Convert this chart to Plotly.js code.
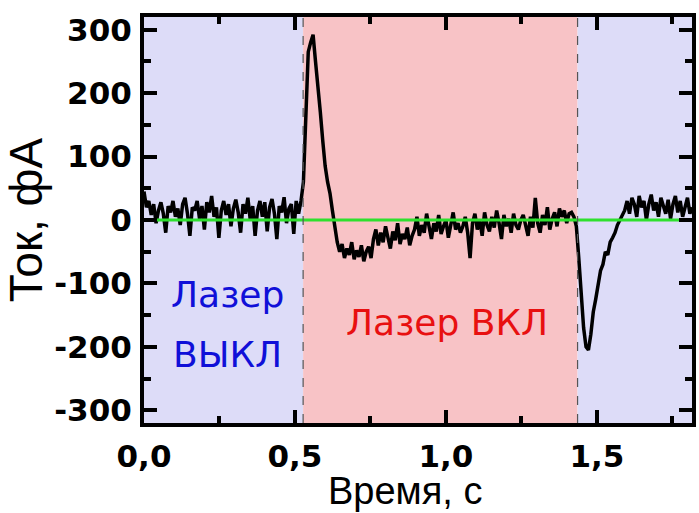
<!DOCTYPE html>
<html><head><meta charset="utf-8">
<script src="https://cdn.plot.ly/plotly-3.0.1.min.js"></script>
<style>html,body{margin:0;padding:0;background:#fff}#chart{width:699px;height:513px}</style>
</head><body><div id="chart"></div>
<script>
// sampling
const t0 = 0.0;
const dt = 0.008;
// current values, fA (one sample every dt seconds)
const offSegment1 = [45, 20, 30, 8, 25, -5, 15, 28, 10, -20,
  22, 12, 30, 5, 18, -8, 25, 35, 10, -25,
  20, 15, 30, 2, 22, -15, 28, 12, 38, 5,
  20, -28, 15, 30, 8, 25, -10, 18, 32, 12,
  -20, 25, 10, 35, 0, 22, -25, 15, 30, 5,
  28, -18, 20, 33, 10, -30, 22, 12, 36, -5,
  18, 25, -22, 30, 10, 30];
const onPeak = [60, 180, 265, 280, 292, 250, 215, 170, 125, 85, 60, 42, 15, -15, -35];
const onUndershoot = [-50, -38, -60, -45, -55, -35, -62, -48, -58, -40, -65, -50, -42, -60,
  -30, -15, -40, -20, -35, -10, -28, -45, -18, -32, -5, -38, -22, -30, -12, -40, -25,
  -15, 5, -25, -8, -20, 10, -12, -30, -5, -18, 8, -22, -10, 0, -28, -8, 12, -15, -5, -20];
const onPlateau = [-10, 5, -20, -60, -5, 10, -15, 0, -25, 12,
  -8, -18, 5, -12, 15, -5, -30, 8, -10, 2,
  -20, 10, -8, -15, 0, 8, -10, -25, 5, -12,
  35, -5, -20, 8, -8, 20, -15, 2, 12, -10,
  18, 5, 15, -5, 10, 12, 5];
const offDip = [-10, -60, -120, -170, -200, -205, -180, -145, -125, -100, -80, -70, -50, -55, -35, -28, -20, -8, 0, 5];
const offSegment2 = [15, 30, 10, 35, 25, 5, 38, 20, 30, 0, 25, 40, 15, 28, 5, 35, 20, 10, 32, 2, 25, 38, 12, 30, 5, 22, 35, 10, 20];

const laserOn = 0.527;
const laserOff = 1.436;
const xMax = 1.815;

const xTickVals = [0, 0.5, 1.0, 1.5];
const xTickText = ['0,0', '0,5', '1,0', '1,5'];
const yTickVals = [-300, -200, -100, 0, 100, 200, 300];
const yTickText = ['-300', '-200', '-100', '0', '100', '200', '300'];

const current = [].concat(offSegment1, onPeak, onUndershoot, onPlateau, offDip, offSegment2);
const time = current.map((_, i) => +(t0 + i * dt).toFixed(4));

const xTitle = 'Время, с';
const yTitle = 'Ток, фА';
const labelOff = ['Лазер', 'ВЫКЛ'];
const labelOn = 'Лазер ВКЛ';

const font = 'Liberation Sans, Arial, sans-serif';
const wide = 'DejaVu Sans, sans-serif';

const traces = [
  {x: time, y: current, type: 'scatter', mode: 'lines',
   line: {color: '#000', width: 3.5}, hoverinfo: 'skip'},
  {x: [0, xMax], y: [0, 0], type: 'scatter', mode: 'lines',
   line: {color: '#2ee02e', width: 3}, hoverinfo: 'skip'}
];

const layout = {
  width: 699, height: 513,
  margin: {l: 144, r: 7, t: 17, b: 90},
  paper_bgcolor: '#fff', plot_bgcolor: '#fff',
  showlegend: false,
  font: {family: font, color: '#000'},
  xaxis: {
    range: [0, xMax], tickvals: xTickVals, ticktext: xTickText,
    ticks: 'inside', ticklen: 13, tickwidth: 4, tickcolor: '#000',
    showline: true, linewidth: 4, linecolor: '#000', mirror: 'ticks',
    showgrid: false, zeroline: false,
    minor: {tickvals: [0.25, 0.75, 1.25, 1.75], ticks: 'inside', ticklen: 7, tickwidth: 4, tickcolor: '#000'},
    tickfont: {size: 31, family: wide, weight: 'bold'},
    ticklabelstandoff: 3
  },
  yaxis: {
    range: [-320, 320], tickvals: yTickVals, ticktext: yTickText,
    ticks: 'inside', ticklen: 13, tickwidth: 4, tickcolor: '#000',
    showline: true, linewidth: 4, linecolor: '#000', mirror: 'ticks',
    showgrid: false, zeroline: false,
    minor: {tickvals: [-250, -150, -50, 50, 150, 250], ticks: 'inside', ticklen: 7, tickwidth: 4, tickcolor: '#000'},
    tickfont: {size: 31, family: wide, weight: 'bold'},
    ticklabelstandoff: 2,
    title: {text: yTitle, font: {size: 46, family: font}, standoff: 4}
  },
  shapes: [
    {type: 'rect', xref: 'x', yref: 'paper', x0: 0, x1: laserOn, y0: 0, y1: 1, fillcolor: '#dddcf8', line: {width: 0}, layer: 'below'},
    {type: 'rect', xref: 'x', yref: 'paper', x0: laserOn, x1: laserOff, y0: 0, y1: 1, fillcolor: '#f8c3c6', line: {width: 0}, layer: 'below'},
    {type: 'rect', xref: 'x', yref: 'paper', x0: laserOff, x1: xMax, y0: 0, y1: 1, fillcolor: '#dddcf8', line: {width: 0}, layer: 'below'},
    {type: 'line', xref: 'x', yref: 'paper', x0: laserOn, x1: laserOn, y0: 0, y1: 1, line: {color: '#555', width: 1.2, dash: 'dash'}},
    {type: 'line', xref: 'x', yref: 'paper', x0: laserOff, x1: laserOff, y0: 0, y1: 1, line: {color: '#555', width: 1.2, dash: 'dash'}}
  ],
  annotations: [
    {x: 0.276, y: -117, xref: 'x', yref: 'y', text: labelOff[0], showarrow: false,
     font: {size: 36, color: '#1010d8', family: wide}},
    {x: 0.276, y: -212, xref: 'x', yref: 'y', text: labelOff[1], showarrow: false,
     font: {size: 36, color: '#1010d8', family: wide}},
    {x: 1.005, y: -161, xref: 'x', yref: 'y', text: labelOn, showarrow: false,
     font: {size: 36, color: '#e81010', family: wide}},
    {x: 0.476, y: -0.2217, xref: 'paper', yref: 'paper', xanchor: 'center', yanchor: 'bottom',
     borderpad: 0, text: xTitle, showarrow: false, font: {size: 38, family: font, color: '#000'}}
  ]
};

Plotly.newPlot('chart', traces, layout, {displayModeBar: false, staticPlot: true});
</script>
</body></html>
